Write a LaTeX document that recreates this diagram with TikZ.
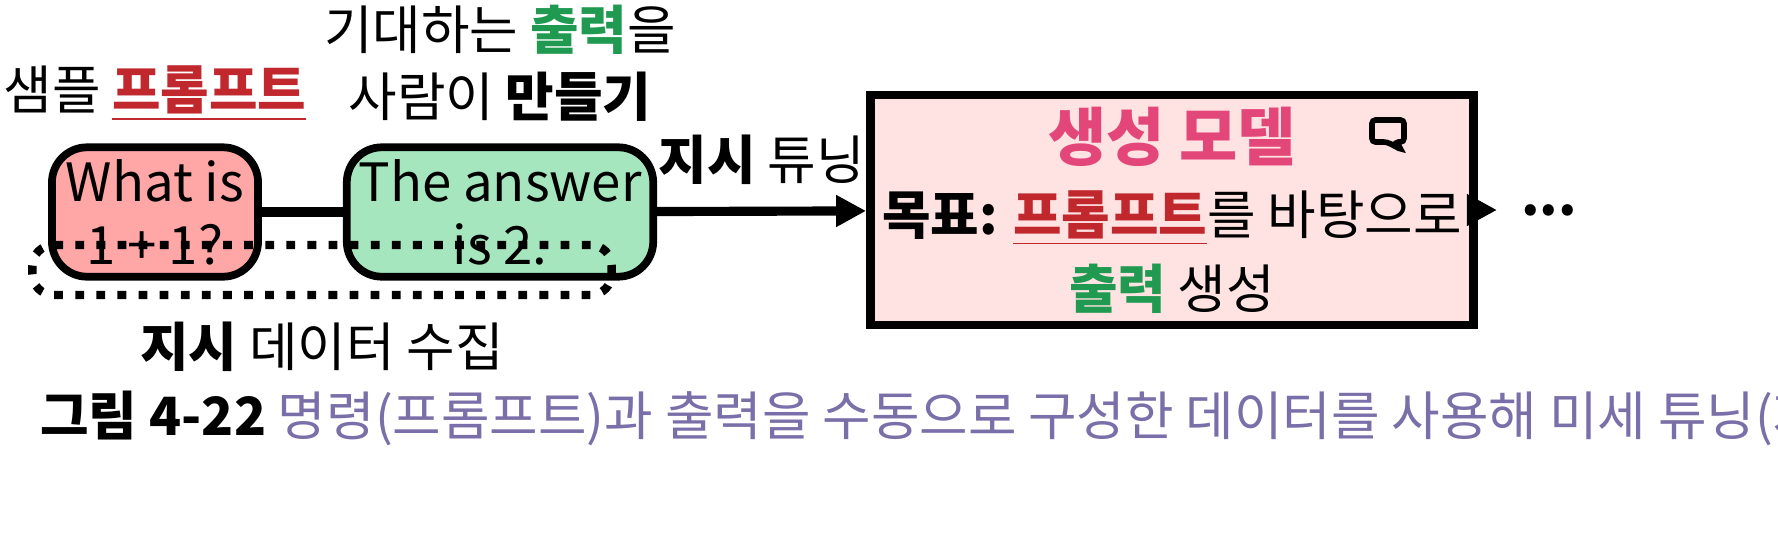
\documentclass[tikz,border=0pt]{standalone}
\usepackage{fontspec}
\setmainfont{Noto Sans CJK KR}
\usetikzlibrary{positioning,arrows.meta}
\definecolor{promptred}{HTML}{C0282D}
\definecolor{outgreen}{HTML}{1F9A50}
\definecolor{modelpink}{HTML}{E3477A}
\definecolor{capviolet}{HTML}{7A6FA8}
\tikzset{
  sample/.style={draw=black, line width=2.2pt, rounded corners=10pt, fill=#1,
                 minimum width=2.06cm, minimum height=1.19cm, align=center,
                 font=\fontsize{15}{18}\selectfont},
  label/.style={font=\fontsize{15}{19}\selectfont, align=center},
  link/.style={line width=2.6pt},
  arrow/.style={link, -{Triangle[length=0.3cm,width=0.3cm]}}
}
\newcommand{\prm}{\textcolor{promptred}{\bfseries\underline{프롬프트}}}
\newcommand{\outp}{\textcolor{outgreen}{\bfseries 출력}}

\begin{document}
\begin{tikzpicture}[x=0.01cm, y=-0.01cm]
\useasboundingbox (0,0) rectangle (1778,536);

% Samples
  \node[sample=red!25!pink!80]     (qst) at (155,212) {What is\\1 + 1?};
  \node[sample=green!45!teal!35]   (ans) at (500,212) {The answer\\is 2.};
  \node[label, above=0.1cm of qst] (qlab) {샘플 \prm};
  \node[label, above=0.1cm of ans] (alab) {기대하는 \outp{}을\\사람이 \textbf{만들기}};

% Collection
  \node[draw=black, line width=2.4pt, dash pattern=on 2.5pt off 3.5pt,
        rounded corners=6pt, minimum width=5.79cm, minimum height=0.5cm]
        (coll) at (322,270) {};
  \node[label, below=0.1cm of coll] (clab) {\textbf{지시} 데이터 수집};

% Model
  \node[draw=black, line width=2.4pt, fill=pink!45!white, minimum width=5.08cm,
        minimum height=2.26cm, align=center, font=\fontsize{15}{21}\selectfont]
        (model) at (1172,210)
        {\textcolor{modelpink}{\bfseries\fontsize{18}{22}\selectfont 생성 모델}\\
         \textbf{목표:} \prm{}를 바탕으로\\\outp{} 생성};
  \draw[line width=1.6pt, rounded corners=1pt]
    (1372,120) -- (1404,120) -- (1404,142) -- (1395,142) -- (1402,150)
    -- (1387,142) -- (1372,142) -- cycle;
  \coordinate (more) at (1497,210);
  \node[font=\bfseries\fontsize{15}{18}\selectfont, right=0.12cm of more] (dots) {...};

% Relations
  \draw[link] (qst) -- (ans);
  \draw[arrow] (ans) -- node[label, above=0.1cm] {\textbf{지시} 튜닝} (model);
  \draw[arrow] (model) -- (more);

% Caption
  \node[anchor=west, font=\fontsize{15}{18}\selectfont] (cap) at (28,418)
    {\textbf{그림 4-22} \textcolor{capviolet}{명령(프롬프트)과 출력을 수동으로 구성한 데이터를 사용해 미세 튜닝(지시 튜닝)을 수행합니다.}};
\end{tikzpicture}
\end{document}
